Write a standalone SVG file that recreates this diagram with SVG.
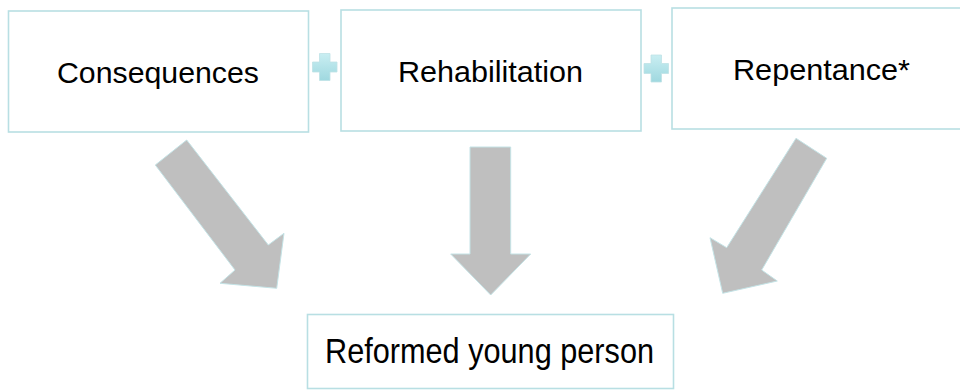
<svg xmlns="http://www.w3.org/2000/svg" width="960" height="390" viewBox="0 0 960 390">
<style>
.box{fill:#ffffff;stroke:#b8dfe3;stroke-width:1.6}
.lbl{font-family:"Liberation Sans",Arial,sans-serif;fill:#000000;text-anchor:middle}
.arrow{fill:#bfbfbf;stroke:#c4e3e6;stroke-width:1}
.plus{fill:url(#pg);stroke:#bfe2e6;stroke-width:0.8}
</style>
<defs>
<linearGradient id="pg" x1="0" y1="0" x2="0" y2="1">
<stop offset="0" stop-color="#c9eef2"/>
<stop offset="1" stop-color="#9fd8df"/>
</linearGradient>
</defs>
<rect width="960" height="390" fill="#ffffff"/>
<g id="connectors">
<polygon class="arrow" points="186.7,140 155.3,165 235,270 220,283.3 276.7,288.3 284,233.3 268.3,245"/>
<polygon class="arrow" points="470,147 510.7,147 510.7,254 530.7,254 490.7,295 450.7,254 470,254"/>
<polygon class="arrow" points="796,138.3 826.7,158.3 761.7,270 777.3,281 722.7,293.3 710,237.7 726.7,247.7"/>
<path class="plus" d="M319.5,53.5h10.5v8.5h7v10h-7v8.5h-10.5v-8.5h-7v-10h7z"/>
<path class="plus" d="M651,55h10.5v8.5h7v10h-7v8.5h-10.5v-8.5h-7v-10h7z"/>
</g>
<g id="node-consequences">
<rect class="box" x="8.5" y="11" width="300" height="121"/>
<text class="lbl" x="158" y="83" font-size="29" textLength="202" lengthAdjust="spacingAndGlyphs">Consequences</text>
</g>
<g id="node-rehabilitation">
<rect class="box" x="341" y="10" width="300" height="121"/>
<text class="lbl" x="490.5" y="82" font-size="29" textLength="185" lengthAdjust="spacingAndGlyphs">Rehabilitation</text>
</g>
<g id="node-repentance">
<rect class="box" x="672" y="8" width="300" height="121"/>
<text class="lbl" x="821.5" y="80" font-size="29" textLength="177" lengthAdjust="spacingAndGlyphs">Repentance*</text>
</g>
<g id="node-reformed">
<rect class="box" x="307.5" y="314.5" width="366" height="74"/>
<text class="lbl" x="489.5" y="363" font-size="35" textLength="329" lengthAdjust="spacingAndGlyphs">Reformed young person</text>
</g>
</svg>
